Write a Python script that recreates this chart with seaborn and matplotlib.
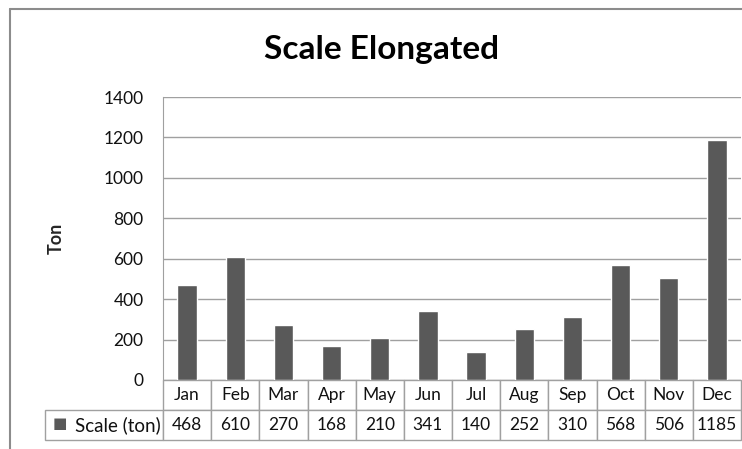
import matplotlib
matplotlib.use('Agg')
import matplotlib.pyplot as plt
import seaborn as sns
import pandas as pd
from matplotlib.lines import Line2D

months = ['Jan', 'Feb', 'Mar', 'Apr', 'May', 'Jun', 'Jul', 'Aug', 'Sep', 'Oct', 'Nov', 'Dec']
scale_ton = [468, 610, 270, 168, 210, 341, 140, 252, 310, 568, 506, 1185]
series_name = 'Scale (ton)'
y_ticks = [0, 200, 400, 600, 800, 1000, 1200, 1400]

bar_color = '#595959'
grid_color = '#a0a0a0'

sns.set_style('white')
plt.rcParams['font.family'] = ['Lato', 'DejaVu Sans']

df = pd.DataFrame({'month': months, 'ton': scale_ton})

fig = plt.figure(figsize=(7.42, 4.49), dpi=100)
W, H = 742, 449
ax = fig.add_axes([163 / W, 1 - 380 / H, 578 / W, 283 / H])

sns.barplot(data=df, x='month', y='ton', color=bar_color, width=0.4,
            saturation=1, ax=ax)

ax.set_ylim(0, 1400)
ax.set_yticks(y_ticks)
ax.set_yticklabels([str(t) for t in y_ticks], fontsize=12.5, color='#111111')
ax.tick_params(axis='y', length=0, pad=14)
ax.tick_params(axis='x', length=0, labelbottom=False)
ax.set_xlabel('')
ax.set_ylabel('Ton', fontsize=13, fontweight='bold', labelpad=28)
ax.yaxis.grid(True, color=grid_color, linewidth=1)
ax.set_axisbelow(True)
for side in ['top', 'right', 'bottom']:
    ax.spines[side].set_visible(False)
ax.spines['left'].set_color(grid_color)

# data table under the plot area
row0 = [''] + months
row1 = [series_name] + [str(v) for v in scale_ton]
first_w = 118 / 696
col_w = [first_w] + [(1 - first_w) / 12] * 12
tab = ax.table(cellText=[row0, row1], colWidths=col_w, cellLoc='center',
               bbox=[-118 / 578, -60 / 283, 696 / 578, 60 / 283])
tab.auto_set_font_size(False)
tab.set_fontsize(12.5)
for (r, c), cell in tab.get_celld().items():
    cell.set_edgecolor(grid_color)
    cell.set_linewidth(1)
    cell.get_text().set_color('#111111')
tab[0, 0].visible_edges = ''
key_cell = tab[1, 0]
key_cell.get_text().set_fontsize(13.5)
key_cell.get_text().set_ha('right')
key_cell._loc = 'right'
key_cell.PAD = 0.02

# legend key square in the table
ax.text(-110 / 578, -44 / 283, '\u25A0', transform=ax.transAxes, color=bar_color,
        fontsize=11, va='center', ha='left', family='DejaVu Sans')

fig.text(381 / W, 1 - 50 / H, 'Scale Elongated', ha='center', va='center',
         fontsize=24, fontweight='bold', color='black')

# outer chart frame
fig.add_artist(Line2D([10 / W, 10 / W], [0, 1 - 9 / H], transform=fig.transFigure,
                      color='#8c8c8c', linewidth=1.5))
fig.add_artist(Line2D([10 / W, 1], [1 - 9 / H, 1 - 9 / H], transform=fig.transFigure,
                      color='#8c8c8c', linewidth=1.5))

fig.savefig('out.png', dpi=100)
